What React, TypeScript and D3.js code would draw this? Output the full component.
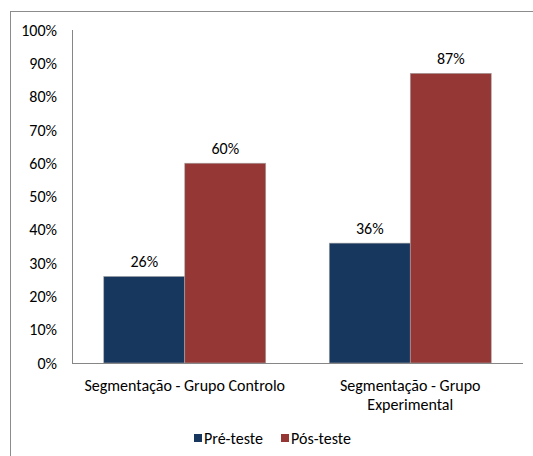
import React from "react";
import * as d3 from "d3";

const categories: string[][] = [
  ["Segmentação - Grupo Controlo"],
  ["Segmentação - Grupo", "Experimental"],
];
const categoryKeys = ["Controlo", "Experimental"];
const seriesNames = ["Pré-teste", "Pós-teste"];
const preTeste = [0.26, 0.36];
const posTeste = [0.6, 0.87];
const seriesColors = ["#17375E", "#953735"];
const yTicks = [0, 0.1, 0.2, 0.3, 0.4, 0.5, 0.6, 0.7, 0.8, 0.9, 1.0];

const W = 533;
const H = 456;
const FONT = "Carlito, Calibri, Lato, 'Open Sans', sans-serif";
const FS = 16;

export default function App() {
  const left = 72;
  const right = 523;
  const top = 30;
  const bottom = 363;

  const x0 = d3.scaleBand<string>().domain(categoryKeys).range([left, right]).padding(0);
  const x1 = d3
    .scaleBand<string>()
    .domain(seriesNames)
    .range([0, x0.bandwidth()])
    .paddingInner(0)
    .paddingOuter(0.392);
  const y = d3.scaleLinear().domain([0, 1]).range([bottom, top]);
  const fmt = d3.format(".0%");
  const series = [preTeste, posTeste];

  return (
    <svg
      width={W}
      height={H}
      style={{ position: "absolute", left: 0, top: 0, background: "#fff" }}
      fontFamily={FONT}
    >
      <rect x={10.5} y={11.5} width={700} height={700} fill="#fff" stroke="#8c8c8c" strokeWidth={1} />
      {/* y axis */}
      <line x1={left + 0.5} x2={left + 0.5} y1={top} y2={bottom} stroke="#868686" />
      {yTicks.map((t) => (
        <text key={t} x={57} y={y(t)} dy="0.35em" textAnchor="end" fontSize={FS} fill="#000">
          {fmt(t)}
        </text>
      ))}
      {/* bars */}
      {categoryKeys.map((c, ci) => (
        <g key={c} transform={`translate(${x0(c)},0)`}>
          {seriesNames.map((s, si) => {
            const v = series[si][ci];
            const bx = x1(s)!;
            const bw = x1.bandwidth();
            return (
              <g key={s}>
                <rect
                  x={bx}
                  y={y(v)}
                  width={bw}
                  height={bottom - y(v)}
                  fill={seriesColors[si]}
                  stroke="#a6a6a6"
                  strokeWidth={0.6}
                />
                <text x={bx + bw / 2} y={y(v) - 15} dy="0.35em" textAnchor="middle" fontSize={FS} fill="#000">
                  {fmt(v)}
                </text>
              </g>
            );
          })}
        </g>
      ))}
      {/* x axis */}
      <line x1={left} x2={right} y1={bottom + 0.5} y2={bottom + 0.5} stroke="#868686" />
      {categoryKeys.map((c, ci) => (
        <text key={c} x={x0(c)! + x0.bandwidth() / 2} y={385} textAnchor="middle" fontSize={FS} fill="#000">
          {categories[ci].map((line, li) => (
            <tspan key={li} x={x0(c)! + x0.bandwidth() / 2} dy={li === 0 ? "0.35em" : 19.5}>
              {line}
            </tspan>
          ))}
        </text>
      ))}
      {/* legend */}
      {seriesNames.map((s, si) => {
        const lx = si === 0 ? 194 : 281;
        return (
          <g key={s}>
            <rect x={lx} y={434} width={8} height={8} fill={seriesColors[si]} />
            <text x={lx + 10} y={438} dy="0.35em" fontSize={FS} fill="#000">
              {s}
            </text>
          </g>
        );
      })}
    </svg>
  );
}
